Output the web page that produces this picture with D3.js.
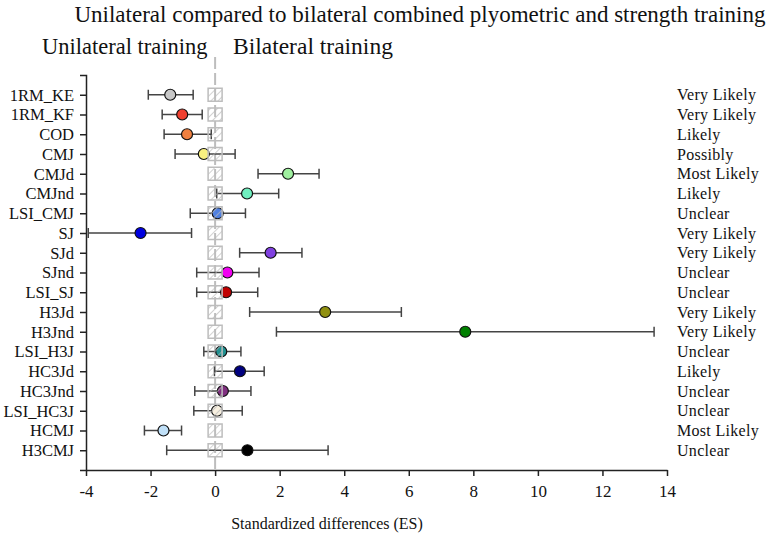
<!DOCTYPE html>
<html><head><meta charset="utf-8">
<script src="https://cdn.jsdelivr.net/npm/d3@7"></script>
<style>body{margin:0;background:#fff} svg text{font-family:'Liberation Serif','Times New Roman',serif !important}</style>
</head><body>
<script>
const categories = ["1RM_KE","1RM_KF","COD","CMJ","CMJd","CMJnd","LSI_CMJ","SJ","SJd","SJnd","LSI_SJ","H3Jd","H3Jnd","LSI_H3J","HC3Jd","HC3Jnd","LSI_HC3J","HCMJ","H3CMJ"];
const es     = [-1.39,-1.02,-0.87,-0.35,2.26,0.99,0.08,-2.31,1.72,0.38,0.34,3.41,7.75,0.19,0.77,0.24,0.06,-1.60,1.00];
const lower  = [-2.07,-1.64,-1.58,-1.24,1.33,0.05,-0.77,-3.93,0.76,-0.57,-0.57,1.07,1.90,-0.35,-0.02,-0.63,-0.66,-2.19,-1.50];
const upper  = [-0.68,-0.40,-0.12,0.62,3.22,1.97,0.94,-0.73,2.69,1.36,1.32,5.77,13.6,0.80,1.52,1.11,0.84,-1.04,3.50];
const outcomes = ["Very Likely","Very Likely","Likely","Possibly","Most Likely","Likely","Unclear","Very Likely","Very Likely","Unclear","Unclear","Very Likely","Very Likely","Unclear","Likely","Unclear","Unclear","Most Likely","Unclear"];
const colors = ["#c8c8c8","#f04030","#f08040","#f8f080","#a0f0a0","#70f0c0","#5080e0","#0000e0","#8040e0","#f000f0","#c00000","#909010","#008000","#209090","#000080","#803080","#f8f0e0","#c0e0f8","#000000"];
const xTicks = [-4,-2,0,2,4,6,8,10,12,14];
const title = "Unilateral compared to bilateral combined plyometric and strength training";

const W = 767, H = 544;
const svg = d3.select("body").append("svg").attr("width", W).attr("height", H);

const defs = svg.append("defs");
const pat = defs.append("pattern").attr("id","hatch").attr("patternUnits","userSpaceOnUse")
  .attr("width",5).attr("height",5).attr("patternTransform","rotate(45)");
pat.append("line").attr("x1",0).attr("y1",0).attr("x2",0).attr("y2",5)
  .attr("stroke","#b8b8b8").attr("stroke-width",1.3);

const x = d3.scaleLinear().domain([-4,14]).range([86,667]);
const y = d3.scalePoint().domain(categories).range([75,470]).padding(1);

// title & headers
svg.append("text").attr("x",420).attr("y",22).attr("text-anchor","middle")
  .attr("font-size",23).attr("fill","#111").text(title);
svg.append("text").attr("x",42).attr("y",54).attr("font-size",22.5).attr("fill","#111").text("Unilateral training");
svg.append("text").attr("x",233).attr("y",54).attr("font-size",23.5).attr("fill","#111").text("Bilateral training");

// zero dashed line
svg.append("line").attr("x1",x(0)).attr("x2",x(0)).attr("y1",57).attr("y2",470)
  .attr("stroke","#bdbdbd").attr("stroke-width",2).attr("stroke-dasharray","12,4");

// x axis
const xa = svg.append("g").attr("transform","translate(0,470)")
  .call(d3.axisBottom(x).tickValues(xTicks).tickSize(6).tickSizeOuter(0).tickFormat(d=>String(d)));
xa.select(".domain").attr("stroke","#222").attr("stroke-width",1.5);
xa.selectAll(".tick line").attr("stroke","#222").attr("stroke-width",1.5);
xa.selectAll("text").attr("font-size",17).attr("fill","#111").attr("dy","1.05em");

// y axis
const ya = svg.append("g").attr("transform","translate(86,0)")
  .call(d3.axisLeft(y).tickSize(6).tickSizeOuter(6));
ya.select(".domain").attr("stroke","#222").attr("stroke-width",1.5);
ya.selectAll(".tick line").attr("stroke","#222").attr("stroke-width",1.5);
ya.selectAll("text").attr("font-size",16.5).attr("fill","#111").attr("x",-12);

const rows = categories.map((c,i)=>({c, v:es[i], lo:lower[i], hi:upper[i], col:colors[i], out:outcomes[i]}));

// error bars
const eb = svg.append("g").attr("stroke","#444").attr("stroke-width",1.5);
rows.forEach(d=>{
  const yy = y(d.c);
  eb.append("line").attr("x1",x(d.lo)).attr("x2",x(d.hi)).attr("y1",yy).attr("y2",yy);
  eb.append("line").attr("x1",x(d.lo)).attr("x2",x(d.lo)).attr("y1",yy-5).attr("y2",yy+5);
  eb.append("line").attr("x1",x(d.hi)).attr("x2",x(d.hi)).attr("y1",yy-5).attr("y2",yy+5);
});

// points
svg.append("g").selectAll("circle").data(rows).join("circle")
  .attr("cx",d=>x(d.v)).attr("cy",d=>y(d.c)).attr("r",5.5)
  .attr("fill",d=>d.col).attr("stroke","#111").attr("stroke-width",1.2);

// hatched boxes (trivial area) on top
svg.append("g").selectAll("rect").data(rows).join("rect")
  .attr("x",x(0)-7).attr("y",d=>y(d.c)-6.5).attr("width",14).attr("height",13)
  .attr("fill","url(#hatch)").attr("stroke","#bdbdbd").attr("stroke-width",1.5);

// right outcome labels
svg.append("g").selectAll("text").data(rows).join("text")
  .attr("x",677).attr("y",d=>y(d.c)).attr("dy","0.35em").attr("font-size",16)
  .attr("fill","#111").style("letter-spacing","0.3px").text(d=>d.out);

// x label
svg.append("text").attr("x",327).attr("y",529).attr("text-anchor","middle")
  .attr("font-size",16).attr("fill","#111").text("Standardized differences (ES)");
</script>
</body></html>
